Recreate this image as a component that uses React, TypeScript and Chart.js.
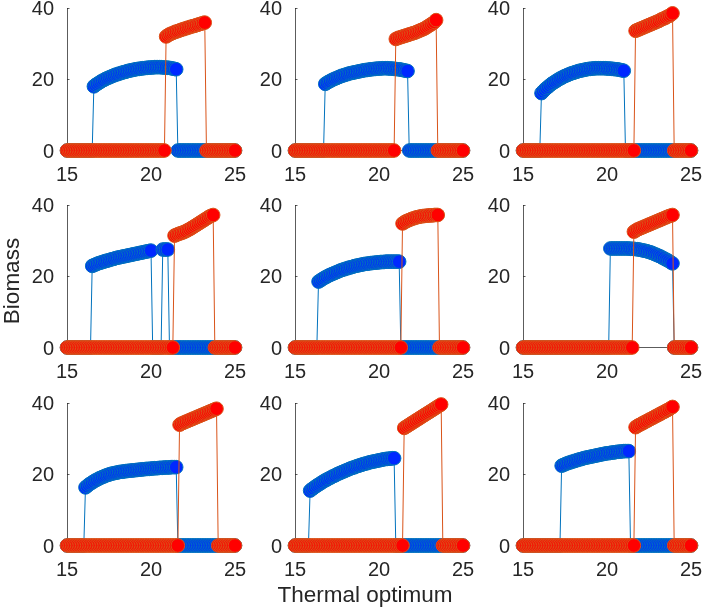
import React, { useEffect, useRef } from "react";
import { Chart, registerables } from "chart.js";

Chart.register(...registerables);

// Thermal optimum grid shared by every panel
const thermalOptimum = [
  15.0, 15.1, 15.2, 15.3, 15.4, 15.5, 15.6, 15.7, 15.8, 15.9,
  16.0, 16.1, 16.2, 16.3, 16.4, 16.5, 16.6, 16.7, 16.8, 16.9,
  17.0, 17.1, 17.2, 17.3, 17.4, 17.5, 17.6, 17.7, 17.8, 17.9,
  18.0, 18.1, 18.2, 18.3, 18.4, 18.5, 18.6, 18.7, 18.8, 18.9,
  19.0, 19.1, 19.2, 19.3, 19.4, 19.5, 19.6, 19.7, 19.8, 19.9,
  20.0, 20.1, 20.2, 20.3, 20.4, 20.5, 20.6, 20.7, 20.8, 20.9,
  21.0, 21.1, 21.2, 21.3, 21.4, 21.5, 21.6, 21.7, 21.8, 21.9,
  22.0, 22.1, 22.2, 22.3, 22.4, 22.5, 22.6, 22.7, 22.8, 22.9,
  23.0, 23.1, 23.2, 23.3, 23.4, 23.5, 23.6, 23.7, 23.8, 23.9,
  24.0, 24.1, 24.2, 24.3, 24.4, 24.5, 24.6, 24.7, 24.8, 24.9,
  25.0,
];

const xTickValues = [15, 20, 25];
const yTickValues = [0, 20, 40];

// Panel 1 (top left)
const blue1 = [
  0, 0, 0, 0, 0, 0, 0, 0, 0, 0,
  0, 0, 0, 0, 0, 0, 18.0, 18.4, 18.7, 19.0,
  19.3, 19.6, 19.8, 20.1, 20.3, 20.5, 20.7, 20.9, 21.1, 21.3,
  21.4, 21.6, 21.7, 21.9, 22.0, 22.1, 22.3, 22.4, 22.5, 22.6,
  22.7, 22.8, 22.9, 22.9, 23.0, 23.1, 23.1, 23.2, 23.2, 23.3,
  23.3, 23.3, 23.4, 23.4, 23.4, 23.4, 23.4, 23.3, 23.3, 23.3,
  23.2, 23.2, 23.1, 23.0, 22.9, 22.8, 0, 0, 0, 0,
  0, 0, 0, 0, 0, 0, 0, 0, 0, 0,
  0, 0, 0, 0, 0, 0, 0, 0, 0, 0,
  0, 0, 0, 0, 0, 0, 0, 0, 0, 0,
  0,
];
const red1 = [
  0, 0, 0, 0, 0, 0, 0, 0, 0, 0,
  0, 0, 0, 0, 0, 0, 0, 0, 0, 0,
  0, 0, 0, 0, 0, 0, 0, 0, 0, 0,
  0, 0, 0, 0, 0, 0, 0, 0, 0, 0,
  0, 0, 0, 0, 0, 0, 0, 0, 0, 0,
  0, 0, 0, 0, 0, 0, 0, 0, 0, 32.0,
  32.3, 32.6, 32.8, 33.0, 33.2, 33.4, 33.5, 33.7, 33.9, 34.0,
  34.2, 34.3, 34.5, 34.6, 34.8, 34.9, 35.0, 35.2, 35.3, 35.5,
  35.6, 35.8, 35.9, 0, 0, 0, 0, 0, 0, 0,
  0, 0, 0, 0, 0, 0, 0, 0, 0, 0,
  0,
];

// Panel 2 (top middle)
const blue2 = [
  0, 0, 0, 0, 0, 0, 0, 0, 0, 0,
  0, 0, 0, 0, 0, 0, 0, 0, 18.7, 19.0,
  19.3, 19.5, 19.8, 20.0, 20.2, 20.4, 20.6, 20.8, 21.0, 21.1,
  21.3, 21.4, 21.6, 21.7, 21.8, 21.9, 22.0, 22.1, 22.2, 22.3,
  22.4, 22.5, 22.6, 22.6, 22.7, 22.8, 22.8, 22.9, 22.9, 23.0,
  23.0, 23.0, 23.1, 23.1, 23.1, 23.1, 23.0, 23.0, 23.0, 22.9,
  22.9, 22.8, 22.8, 22.7, 22.6, 22.5, 22.4, 22.3, 0, 0,
  0, 0, 0, 0, 0, 0, 0, 0, 0, 0,
  0, 0, 0, 0, 0, 0, 0, 0, 0, 0,
  0, 0, 0, 0, 0, 0, 0, 0, 0, 0,
  0,
];
const red2 = [
  0, 0, 0, 0, 0, 0, 0, 0, 0, 0,
  0, 0, 0, 0, 0, 0, 0, 0, 0, 0,
  0, 0, 0, 0, 0, 0, 0, 0, 0, 0,
  0, 0, 0, 0, 0, 0, 0, 0, 0, 0,
  0, 0, 0, 0, 0, 0, 0, 0, 0, 0,
  0, 0, 0, 0, 0, 0, 0, 0, 0, 0,
  31.3, 31.5, 31.7, 31.8, 32.0, 32.1, 32.3, 32.4, 32.6, 32.7,
  32.9, 33.0, 33.2, 33.4, 33.6, 33.8, 34.0, 34.2, 34.5, 34.8,
  35.1, 35.4, 35.7, 36.1, 36.6, 0, 0, 0, 0, 0,
  0, 0, 0, 0, 0, 0, 0, 0, 0, 0,
  0,
];

// Panel 3 (top right)
const blue3 = [
  0, 0, 0, 0, 0, 0, 0, 0, 0, 0,
  0, 16.1, 16.6, 17.1, 17.5, 17.9, 18.3, 18.7, 19.0, 19.3,
  19.6, 19.9, 20.2, 20.4, 20.7, 20.9, 21.1, 21.3, 21.5, 21.7,
  21.8, 22.0, 22.1, 22.3, 22.4, 22.5, 22.6, 22.7, 22.8, 22.9,
  22.9, 23.0, 23.0, 23.1, 23.1, 23.1, 23.1, 23.1, 23.1, 23.1,
  23.0, 23.0, 23.0, 22.9, 22.9, 22.8, 22.8, 22.7, 22.6, 22.5,
  22.4, 0, 0, 0, 0, 0, 0, 0, 0, 0,
  0, 0, 0, 0, 0, 0, 0, 0, 0, 0,
  0, 0, 0, 0, 0, 0, 0, 0, 0, 0,
  0, 0, 0, 0, 0, 0, 0, 0, 0, 0,
  0,
];
const red3 = [
  0, 0, 0, 0, 0, 0, 0, 0, 0, 0,
  0, 0, 0, 0, 0, 0, 0, 0, 0, 0,
  0, 0, 0, 0, 0, 0, 0, 0, 0, 0,
  0, 0, 0, 0, 0, 0, 0, 0, 0, 0,
  0, 0, 0, 0, 0, 0, 0, 0, 0, 0,
  0, 0, 0, 0, 0, 0, 0, 0, 0, 0,
  0, 0, 0, 0, 0, 0, 0, 33.6, 33.8, 34.0,
  34.2, 34.4, 34.6, 34.8, 35.0, 35.2, 35.4, 35.6, 35.8, 36.0,
  36.2, 36.4, 36.7, 36.9, 37.1, 37.3, 37.6, 37.8, 38.1, 38.5,
  0, 0, 0, 0, 0, 0, 0, 0, 0, 0,
  0,
];

// Panel 4 (middle left)
const blue4 = [
  0, 0, 0, 0, 0, 0, 0, 0, 0, 0,
  0, 0, 0, 0, 0, 22.9, 23.1, 23.3, 23.5, 23.7,
  23.8, 24.0, 24.1, 24.3, 24.4, 24.5, 24.7, 24.8, 24.9, 25.1,
  25.2, 25.3, 25.4, 25.5, 25.6, 25.7, 25.8, 25.9, 26.0, 26.1,
  26.2, 26.3, 26.4, 26.5, 26.6, 26.7, 26.8, 26.9, 27.0, 27.1,
  27.2, 0, 0, 0, 0, 0, 0, 27.5, 27.5, 27.5,
  27.5, 0, 0, 0, 0, 0, 0, 0, 0, 0,
  0, 0, 0, 0, 0, 0, 0, 0, 0, 0,
  0, 0, 0, 0, 0, 0, 0, 0, 0, 0,
  0, 0, 0, 0, 0, 0, 0, 0, 0, 0,
  0,
];
const red4 = [
  0, 0, 0, 0, 0, 0, 0, 0, 0, 0,
  0, 0, 0, 0, 0, 0, 0, 0, 0, 0,
  0, 0, 0, 0, 0, 0, 0, 0, 0, 0,
  0, 0, 0, 0, 0, 0, 0, 0, 0, 0,
  0, 0, 0, 0, 0, 0, 0, 0, 0, 0,
  0, 0, 0, 0, 0, 0, 0, 0, 0, 0,
  0, 0, 0, 0, 31.4, 31.6, 31.8, 32.0, 32.1, 32.3,
  32.5, 32.7, 33.0, 33.2, 33.5, 33.8, 34.1, 34.4, 34.7, 35.0,
  35.3, 35.6, 35.9, 36.2, 36.5, 36.8, 37.0, 37.2, 0, 0,
  0, 0, 0, 0, 0, 0, 0, 0, 0, 0,
  0,
];

// Panel 5 (centre)
const blue5 = [
  0, 0, 0, 0, 0, 0, 0, 0, 0, 0,
  0, 0, 0, 0, 18.5, 18.8, 19.1, 19.4, 19.7, 19.9,
  20.2, 20.4, 20.6, 20.8, 21.0, 21.2, 21.4, 21.6, 21.8, 21.9,
  22.1, 22.2, 22.4, 22.5, 22.6, 22.8, 22.9, 23.0, 23.1, 23.2,
  23.3, 23.4, 23.5, 23.5, 23.6, 23.7, 23.7, 23.8, 23.8, 23.9,
  23.9, 24.0, 24.0, 24.0, 24.1, 24.1, 24.1, 24.1, 24.1, 24.1,
  24.1, 24.1, 24.1, 0, 0, 0, 0, 0, 0, 0,
  0, 0, 0, 0, 0, 0, 0, 0, 0, 0,
  0, 0, 0, 0, 0, 0, 0, 0, 0, 0,
  0, 0, 0, 0, 0, 0, 0, 0, 0, 0,
  0,
];
const red5 = [
  0, 0, 0, 0, 0, 0, 0, 0, 0, 0,
  0, 0, 0, 0, 0, 0, 0, 0, 0, 0,
  0, 0, 0, 0, 0, 0, 0, 0, 0, 0,
  0, 0, 0, 0, 0, 0, 0, 0, 0, 0,
  0, 0, 0, 0, 0, 0, 0, 0, 0, 0,
  0, 0, 0, 0, 0, 0, 0, 0, 0, 0,
  0, 0, 0, 0, 34.8, 35.1, 35.4, 35.6, 35.8, 36.0,
  36.2, 36.3, 36.5, 36.6, 36.7, 36.8, 36.9, 36.9, 37.0, 37.0,
  37.1, 37.1, 37.1, 37.2, 37.2, 37.2, 0, 0, 0, 0,
  0, 0, 0, 0, 0, 0, 0, 0, 0, 0,
  0,
];

// Panel 6 (middle right)
const blue6 = [
  0, 0, 0, 0, 0, 0, 0, 0, 0, 0,
  0, 0, 0, 0, 0, 0, 0, 0, 0, 0,
  0, 0, 0, 0, 0, 0, 0, 0, 0, 0,
  0, 0, 0, 0, 0, 0, 0, 0, 0, 0,
  0, 0, 0, 0, 0, 0, 0, 0, 0, 0,
  0, 0, 27.8, 27.8, 27.8, 27.8, 27.8, 27.8, 27.8, 27.8,
  27.8, 27.8, 27.8, 27.8, 27.7, 27.7, 27.7, 27.6, 27.6, 27.5,
  27.4, 27.3, 27.2, 27.1, 27.0, 26.8, 26.7, 26.5, 26.3, 26.1,
  25.9, 25.7, 25.5, 25.2, 25.0, 24.7, 24.5, 24.2, 23.9, 23.6,
  0, 0, 0, 0, 0, 0, 0, 0, 0, 0,
  0,
];
const red6 = [
  0, 0, 0, 0, 0, 0, 0, 0, 0, 0,
  0, 0, 0, 0, 0, 0, 0, 0, 0, 0,
  0, 0, 0, 0, 0, 0, 0, 0, 0, 0,
  0, 0, 0, 0, 0, 0, 0, 0, 0, 0,
  0, 0, 0, 0, 0, 0, 0, 0, 0, 0,
  0, 0, 0, 0, 0, 0, 0, 0, 0, 0,
  0, 0, 0, 0, 0, 0, 32.5, 32.8, 33.1, 33.3,
  33.5, 33.7, 33.9, 34.1, 34.3, 34.5, 34.7, 34.9, 35.1, 35.3,
  35.5, 35.7, 35.9, 36.1, 36.3, 36.5, 36.7, 36.9, 37.0, 37.2,
  0, 0, 0, 0, 0, 0, 0, 0, 0, 0,
  0,
];

// Panel 7 (bottom left)
const blue7 = [
  0, 0, 0, 0, 0, 0, 0, 0, 0, 0,
  0, 16.3, 16.7, 17.1, 17.4, 17.7, 18.0, 18.3, 18.5, 18.8,
  19.0, 19.2, 19.4, 19.6, 19.8, 19.9, 20.1, 20.2, 20.3, 20.4,
  20.5, 20.6, 20.7, 20.7, 20.8, 20.9, 20.9, 21.0, 21.0, 21.1,
  21.1, 21.2, 21.2, 21.3, 21.3, 21.4, 21.4, 21.5, 21.5, 21.5,
  21.6, 21.6, 21.7, 21.7, 21.7, 21.8, 21.8, 21.8, 21.9, 21.9,
  21.9, 21.9, 22.0, 22.0, 22.0, 22.0, 0, 0, 0, 0,
  0, 0, 0, 0, 0, 0, 0, 0, 0, 0,
  0, 0, 0, 0, 0, 0, 0, 0, 0, 0,
  0, 0, 0, 0, 0, 0, 0, 0, 0, 0,
  0,
];
const red7 = [
  0, 0, 0, 0, 0, 0, 0, 0, 0, 0,
  0, 0, 0, 0, 0, 0, 0, 0, 0, 0,
  0, 0, 0, 0, 0, 0, 0, 0, 0, 0,
  0, 0, 0, 0, 0, 0, 0, 0, 0, 0,
  0, 0, 0, 0, 0, 0, 0, 0, 0, 0,
  0, 0, 0, 0, 0, 0, 0, 0, 0, 0,
  0, 0, 0, 0, 0, 0, 0, 33.9, 34.2, 34.4,
  34.6, 34.8, 35.0, 35.2, 35.4, 35.6, 35.8, 36.0, 36.2, 36.4,
  36.6, 36.8, 37.0, 37.2, 37.4, 37.6, 37.8, 38.0, 38.2, 38.4,
  0, 0, 0, 0, 0, 0, 0, 0, 0, 0,
  0,
];

// Panel 8 (bottom middle)
const blue8 = [
  0, 0, 0, 0, 0, 0, 0, 0, 0, 15.4,
  15.8, 16.1, 16.5, 16.8, 17.1, 17.4, 17.7, 18.0, 18.3, 18.5,
  18.8, 19.0, 19.3, 19.5, 19.7, 20.0, 20.2, 20.4, 20.6, 20.8,
  21.0, 21.2, 21.4, 21.6, 21.8, 21.9, 22.1, 22.3, 22.4, 22.6,
  22.7, 22.9, 23.0, 23.1, 23.3, 23.4, 23.5, 23.6, 23.7, 23.8,
  23.9, 24.0, 24.1, 24.2, 24.3, 24.3, 24.4, 24.4, 24.5, 24.5,
  0, 0, 0, 0, 0, 0, 0, 0, 0, 0,
  0, 0, 0, 0, 0, 0, 0, 0, 0, 0,
  0, 0, 0, 0, 0, 0, 0, 0, 0, 0,
  0, 0, 0, 0, 0, 0, 0, 0, 0, 0,
  0,
];
const red8 = [
  0, 0, 0, 0, 0, 0, 0, 0, 0, 0,
  0, 0, 0, 0, 0, 0, 0, 0, 0, 0,
  0, 0, 0, 0, 0, 0, 0, 0, 0, 0,
  0, 0, 0, 0, 0, 0, 0, 0, 0, 0,
  0, 0, 0, 0, 0, 0, 0, 0, 0, 0,
  0, 0, 0, 0, 0, 0, 0, 0, 0, 0,
  0, 0, 0, 0, 0, 33.0, 33.3, 33.6, 33.9, 34.2,
  34.5, 34.8, 35.1, 35.4, 35.7, 36.0, 36.3, 36.6, 36.9, 37.2,
  37.5, 37.8, 38.1, 38.4, 38.7, 39.0, 39.3, 39.6, 0, 0,
  0, 0, 0, 0, 0, 0, 0, 0, 0, 0,
  0,
];

// Panel 9 (bottom right)
const blue9 = [
  0, 0, 0, 0, 0, 0, 0, 0, 0, 0,
  0, 0, 0, 0, 0, 0, 0, 0, 0, 0,
  0, 0, 0, 22.4, 22.6, 22.8, 23.0, 23.2, 23.3, 23.5,
  23.6, 23.8, 23.9, 24.1, 24.2, 24.3, 24.5, 24.6, 24.7, 24.8,
  24.9, 25.0, 25.1, 25.2, 25.3, 25.4, 25.5, 25.6, 25.7, 25.8,
  25.9, 25.9, 26.0, 26.1, 26.1, 26.2, 26.3, 26.3, 26.4, 26.4,
  26.5, 26.5, 26.5, 26.5, 0, 0, 0, 0, 0, 0,
  0, 0, 0, 0, 0, 0, 0, 0, 0, 0,
  0, 0, 0, 0, 0, 0, 0, 0, 0, 0,
  0, 0, 0, 0, 0, 0, 0, 0, 0, 0,
  0,
];
const red9 = [
  0, 0, 0, 0, 0, 0, 0, 0, 0, 0,
  0, 0, 0, 0, 0, 0, 0, 0, 0, 0,
  0, 0, 0, 0, 0, 0, 0, 0, 0, 0,
  0, 0, 0, 0, 0, 0, 0, 0, 0, 0,
  0, 0, 0, 0, 0, 0, 0, 0, 0, 0,
  0, 0, 0, 0, 0, 0, 0, 0, 0, 0,
  0, 0, 0, 0, 0, 0, 0, 33.2, 33.5, 33.8,
  34.0, 34.3, 34.5, 34.8, 35.0, 35.3, 35.5, 35.8, 36.0, 36.3,
  36.5, 36.8, 37.0, 37.3, 37.5, 37.8, 38.0, 38.3, 38.6, 38.9,
  0, 0, 0, 0, 0, 0, 0, 0, 0, 0,
  0,
];

const panelSeries = [
  [blue1, red1], [blue2, red2], [blue3, red3],
  [blue4, red4], [blue5, red5], [blue6, red6],
  [blue7, red7], [blue8, red8], [blue9, red9],
];

// Grid geometry (plot areas in page pixels)
const PLOT_LEFTS = [67, 295, 523];
const PLOT_TOPS = [8, 205, 403];
const PLOT_W = 168;
const PLOT_H = 142.5;
const AXIS_W = 60;
const PAD_TOP = 12;
const PAD_RIGHT = 16;
const XAXIS_H = 40.5;
const CANVAS_W = AXIS_W + PLOT_W + PAD_RIGHT;
const CANVAS_H = PAD_TOP + PLOT_H + XAXIS_H;

const TEXT_COLOR = "rgb(38,38,38)";
const AXIS_COLOR = "rgba(38,38,38,0.75)";
const FONT_FAMILY = "'Liberation Sans', Arial, Helvetica, sans-serif";

const BLUE_EDGE = "rgb(0,114,189)";
const BLUE_FACE = "rgb(0,40,255)";
const RED_EDGE = "rgb(217,83,25)";
const RED_FACE = "rgb(255,0,0)";

// Short tick marks drawn inside the axes
const innerTicks = {
  id: "innerTicks",
  beforeDatasetsDraw(chart: any) {
    const { ctx, chartArea, scales } = chart;
    ctx.save();
    ctx.strokeStyle = AXIS_COLOR;
    ctx.lineWidth = 1;
    ctx.beginPath();
    for (const v of yTickValues) {
      const py = Math.round(scales.y.getPixelForValue(v)) + 0.5;
      ctx.moveTo(chartArea.left, py);
      ctx.lineTo(chartArea.left + 2.5, py);
    }
    for (const v of xTickValues) {
      const px = Math.round(scales.x.getPixelForValue(v)) + 0.5;
      ctx.moveTo(px, chartArea.bottom);
      ctx.lineTo(px, chartArea.bottom - 2.5);
    }
    ctx.stroke();
    ctx.restore();
  },
};

// Keep the plot box fixed: no extra room reserved for edge tick labels
function clearLabelPadding(scale: any) {
  scale.paddingTop = 0;
  scale.paddingBottom = 0;
  scale.paddingLeft = 0;
  scale.paddingRight = 0;
}

function series(values: number[], edge: string, face: string, order: number) {
  return {
    data: values.map((y, i) => ({ x: thermalOptimum[i], y })),
    borderColor: edge,
    borderWidth: 1,
    pointRadius: 6.8,
    pointBorderWidth: 1,
    pointBackgroundColor: face,
    pointBorderColor: edge,
    pointHoverRadius: 6.8,
    tension: 0,
    clip: false as const,
    order,
  };
}

function Panel({ index }: { index: number }) {
  const ref = useRef<HTMLCanvasElement | null>(null);
  const row = Math.floor(index / 3);
  const col = index % 3;
  const [blue, red] = panelSeries[index];

  useEffect(() => {
    if (!ref.current) return;
    const tickFont = { family: FONT_FAMILY, size: 20 };
    const chart = new Chart(ref.current, {
      type: "line",
      data: {
        datasets: [
          series(red, RED_EDGE, RED_FACE, 0),
          series(blue, BLUE_EDGE, BLUE_FACE, 1),
        ],
      },
      options: {
        responsive: false,
        animation: false,
        devicePixelRatio: 1,
        events: [],
        layout: { padding: { top: PAD_TOP, right: PAD_RIGHT, left: 0, bottom: 0 } },
        plugins: { legend: { display: false }, tooltip: { enabled: false } },
        scales: {
          x: {
            type: "linear",
            min: 15,
            max: 25,
            afterBuildTicks: (scale: any) => {
              scale.ticks = xTickValues.map((value) => ({ value }));
            },
            afterFit: (scale: any) => {
              scale.height = XAXIS_H;
              clearLabelPadding(scale);
            },
            grid: { display: false, drawTicks: false },
            border: { display: true, color: AXIS_COLOR, width: 1 },
            ticks: {
              padding: 12.5,
              color: TEXT_COLOR,
              font: tickFont,
              maxRotation: 0,
              autoSkip: false,
            },
          },
          y: {
            type: "linear",
            min: 0,
            max: 40,
            afterBuildTicks: (scale: any) => {
              scale.ticks = yTickValues.map((value) => ({ value }));
            },
            afterFit: (scale: any) => {
              scale.width = AXIS_W;
              clearLabelPadding(scale);
            },
            grid: { display: false, drawTicks: false },
            border: { display: true, color: AXIS_COLOR, width: 1 },
            ticks: {
              padding: 13,
              labelOffset: 1.5,
              color: TEXT_COLOR,
              font: tickFont,
              autoSkip: false,
            },
          },
        },
      },
      plugins: [innerTicks],
    });
    return () => chart.destroy();
  }, [index]);

  return (
    <canvas
      ref={ref}
      width={CANVAS_W}
      height={CANVAS_H}
      style={{
        position: "absolute",
        left: PLOT_LEFTS[col] - AXIS_W,
        top: PLOT_TOPS[row] - PAD_TOP,
        width: CANVAS_W,
        height: CANVAS_H,
      }}
    />
  );
}

export default function App() {
  const labelStyle: React.CSSProperties = {
    position: "absolute",
    fontFamily: FONT_FAMILY,
    fontSize: 22.5,
    lineHeight: "22px",
    color: TEXT_COLOR,
    textAlign: "center",
    whiteSpace: "nowrap",
    width: 240,
    height: 22,
  };
  return (
    <div
      style={{
        position: "absolute",
        left: 0,
        top: 0,
        width: 703,
        height: 611,
        background: "#ffffff",
        overflow: "hidden",
      }}
    >
      {panelSeries.map((_, i) => (
        <Panel key={i} index={i} />
      ))}
      <div
        style={{
          ...labelStyle,
          left: 11.7 - 120,
          top: 281 - 11,
          transform: "rotate(-90deg)",
          transformOrigin: "50% 50%",
        }}
      >
        Biomass
      </div>
      <div style={{ ...labelStyle, left: 365 - 120, top: 584 }}>
        Thermal optimum
      </div>
    </div>
  );
}
